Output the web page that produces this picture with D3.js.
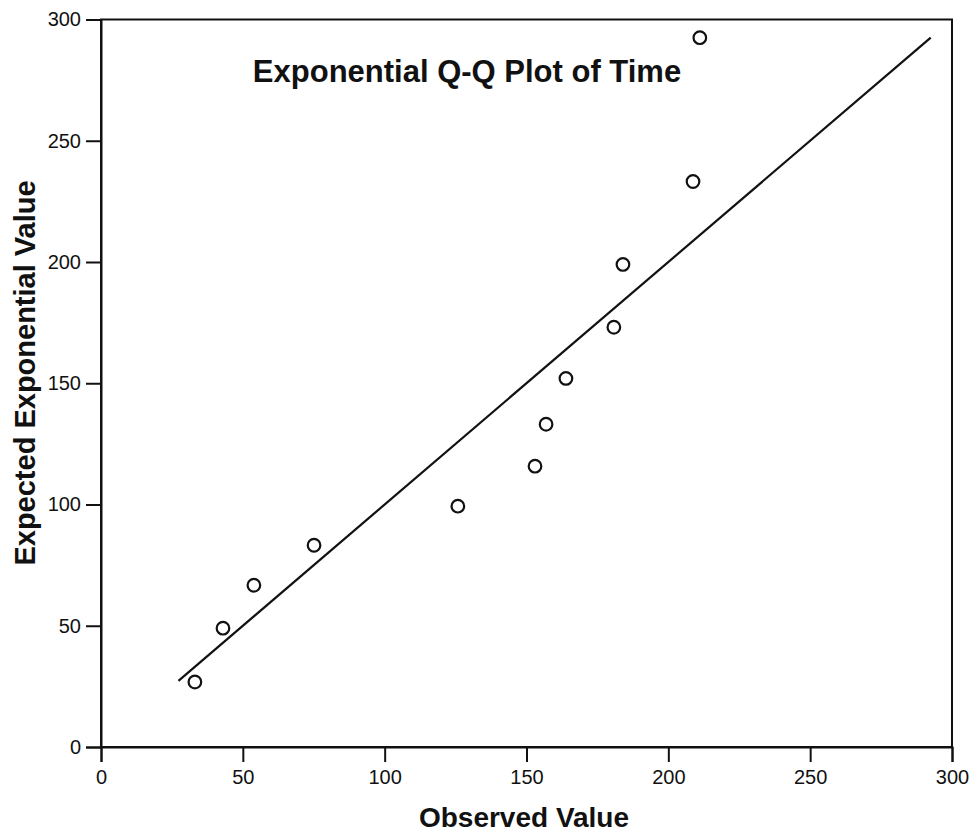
<!DOCTYPE html>
<html>
<head>
<meta charset="utf-8">
<script src="https://cdn.jsdelivr.net/npm/d3@7"></script>
<style>
  html, body { margin: 0; padding: 0; background: #fff; }
  svg { display: block; }
  text { font-family: "Liberation Sans", Arial, sans-serif; fill: #111; }
</style>
</head>
<body>
<svg id="chart" width="973" height="835"></svg>
<script>
// Observed times and their expected exponential quantiles
const observed = [33.1, 43.0, 53.9, 75.1, 125.8, 153.0, 156.9, 163.9, 180.8, 184.0, 208.7, 211.1];
const expected = [26.8, 49.0, 66.7, 83.2, 99.3, 115.8, 133.1, 152.0, 173.1, 199.0, 233.2, 292.5];
// Reference line y = x spanning the expected quantiles
const refLine = [27.3, 292.5];
const xTicks = [0, 50, 100, 150, 200, 250, 300];
const yTicks = [0, 50, 100, 150, 200, 250, 300];

const svg = d3.select("#chart");
const plotL = 101, plotR = 952, plotT = 19.5, plotB = 747;

const x = d3.scaleLinear().domain([0, 300]).range([plotL, plotR]);
const y = d3.scaleLinear().domain([0, 300]).range([plotB, plotT]);

// Frame around the plot area
svg.append("rect")
  .attr("x", plotL).attr("y", plotT)
  .attr("width", plotR - plotL).attr("height", plotB - plotT)
  .attr("fill", "none").attr("stroke", "#111").attr("stroke-width", 2);

// Y axis
const yAxis = svg.append("g")
  .attr("transform", `translate(${plotL},0)`)
  .call(d3.axisLeft(y).tickValues(yTicks).tickSize(15).tickPadding(5).tickFormat(d3.format("d")));
// X axis
const xAxis = svg.append("g")
  .attr("transform", `translate(0,${plotB})`)
  .call(d3.axisBottom(x).tickValues(xTicks).tickSize(15).tickPadding(8).tickFormat(d3.format("d")));

[yAxis, xAxis].forEach(g => {
  g.select(".domain").attr("stroke", "#111").attr("stroke-width", 2);
  g.selectAll(".tick line").attr("stroke", "#111").attr("stroke-width", 2);
  g.selectAll(".tick text")
    .attr("font-family", "Liberation Sans, Arial, sans-serif")
    .attr("font-size", 20).attr("fill", "#222");
});

// Reference line
svg.append("line")
  .attr("x1", x(refLine[0])).attr("y1", y(refLine[0]))
  .attr("x2", x(refLine[1])).attr("y2", y(refLine[1]))
  .attr("stroke", "#111").attr("stroke-width", 2.2);

// Points
svg.append("g").selectAll("circle")
  .data(observed.map((v, i) => [v, expected[i]]))
  .join("circle")
  .attr("cx", d => x(d[0])).attr("cy", d => y(d[1]))
  .attr("r", 6.3)
  .attr("fill", "none").attr("stroke", "#111").attr("stroke-width", 2.2);

// Title
svg.append("text")
  .attr("x", 467).attr("y", 82)
  .attr("text-anchor", "middle")
  .attr("font-size", 31).attr("font-weight", "bold")
  .text("Exponential Q-Q Plot of Time");

// Axis titles
svg.append("text")
  .attr("x", 524).attr("y", 827)
  .attr("text-anchor", "middle")
  .attr("font-size", 28).attr("font-weight", "bold")
  .text("Observed Value");

svg.append("text")
  .attr("transform", "translate(35,373) rotate(-90)")
  .attr("text-anchor", "middle")
  .attr("font-size", 29).attr("font-weight", "bold")
  .text("Expected Exponential Value");
</script>
</body>
</html>
